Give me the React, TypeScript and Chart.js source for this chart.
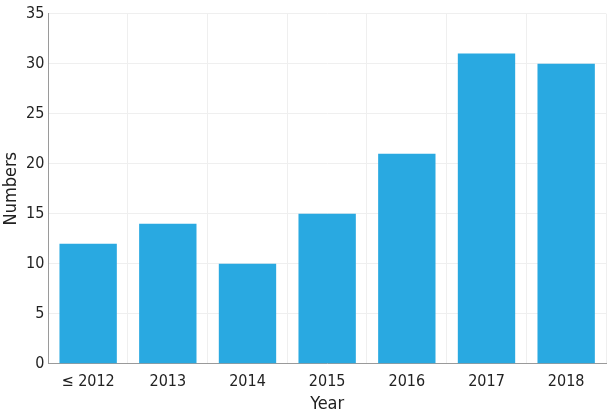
import React, { useEffect, useRef } from "react";
import { Chart, registerables } from "chart.js";

Chart.register(...registerables);

const categories = ["≤ 2012", "2013", "2014", "2015", "2016", "2017", "2018"];
const values = [12, 14, 10, 15, 21, 31, 30];
const yTicks = [0, 5, 10, 15, 20, 25, 30, 35];

const FONT = "'DejaVu Sans Condensed', 'Liberation Sans Narrow', sans-serif";

export default function App() {
  const ref = useRef<HTMLCanvasElement | null>(null);
  useEffect(() => {
    if (!ref.current) return;
    const chart = new Chart(ref.current, {
      type: "bar",
      data: {
        labels: categories,
        datasets: [
          {
            data: values,
            backgroundColor: "#29a9e1",
            borderWidth: 0,
            categoryPercentage: 1,
            barPercentage: 0.72,
          },
        ],
      },
      options: {
        animation: false,
        responsive: true,
        maintainAspectRatio: false,
        layout: { padding: { top: 6, right: 4, left: 0, bottom: 4 } },
        plugins: { legend: { display: false }, tooltip: { enabled: false } },
        scales: {
          x: {
            grid: { color: "#efefef", drawTicks: false },
            border: { color: "#9a9a9a" },
            ticks: { color: "#222", font: { family: FONT, size: 16 }, padding: 8, maxRotation: 0 },
            title: { display: true, text: "Year", color: "#222", font: { family: FONT, size: 18, lineHeight: 1 }, padding: { top: -4, bottom: 0 } },
          },
          y: {
            min: 0,
            max: 35,
            afterBuildTicks: (axis: any) => {
              axis.ticks = yTicks.map((v) => ({ value: v }));
            },
            grid: { color: "#efefef", drawTicks: false },
            border: { color: "#9a9a9a" },
            ticks: { color: "#222", font: { family: FONT, size: 16 }, padding: 4 },
            title: { display: true, text: "Numbers", color: "#222", font: { family: FONT, size: 18, lineHeight: 1 }, padding: { top: 2, bottom: 2 } },
          },
        },
      },
    });
    return () => chart.destroy();
  }, []);
  return (
    <div style={{ position: "fixed", left: 0, top: 0, width: 610, height: 417, background: "#fff" }}>
      <canvas ref={ref} />
    </div>
  );
}
